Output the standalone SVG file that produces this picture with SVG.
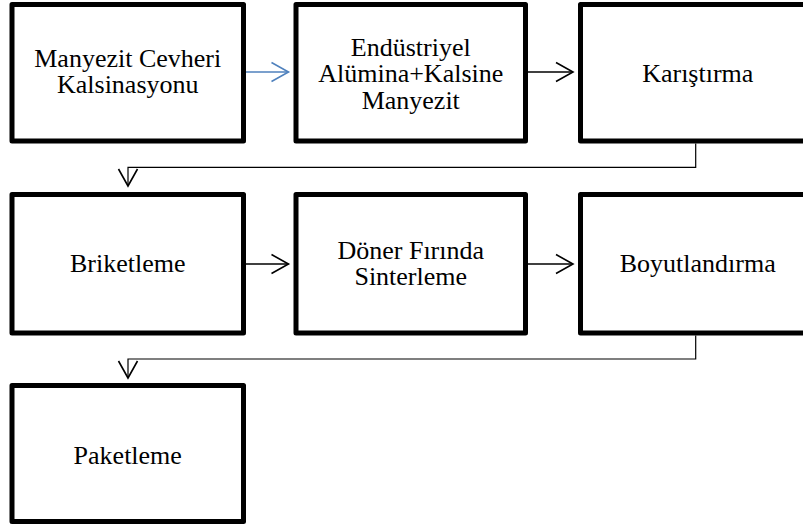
<svg xmlns="http://www.w3.org/2000/svg" width="803" height="529" viewBox="0 0 803 529">
  <style>
    .box { fill: #ffffff; stroke: #000000; stroke-width: 5; stroke-linejoin: round; }
    .label { font-family: 'Liberation Serif', 'DejaVu Serif', serif; font-size: 26px; fill: #000000; text-anchor: middle; }
    .link { fill: none; stroke: #000000; stroke-width: 1.6; }
    .elbow { fill: none; stroke: #000000; stroke-width: 1.2; }
    .blue { stroke: #4f81bd; }
  </style>
  <defs>
    <marker id="open-black" markerUnits="userSpaceOnUse" markerWidth="22" markerHeight="24" viewBox="-19 -11 22 22" refX="0" refY="0" orient="auto">
      <path d="M -17 -9.5 L 0 0 L -17 9.5" fill="none" stroke="#000000" stroke-width="1.6"/>
    </marker>
    <marker id="open-blue" markerUnits="userSpaceOnUse" markerWidth="22" markerHeight="24" viewBox="-19 -11 22 22" refX="0" refY="0" orient="auto">
      <path d="M -17 -9.5 L 0 0 L -17 9.5" fill="none" stroke="#4f81bd" stroke-width="1.6"/>
    </marker>
  </defs>

  <rect width="803" height="529" fill="#ffffff"/>

  <g id="connectors">
    <line class="link blue" x1="246" y1="72" x2="288.5" y2="72" marker-end="url(#open-blue)"/>
    <line class="link" x1="528" y1="72" x2="573" y2="72" marker-end="url(#open-black)"/>
    <polyline class="elbow" points="695.7,143.5 695.7,167.3 128,167.3 128,186" marker-end="url(#open-black)"/>
    <line class="link" x1="246" y1="264" x2="288.5" y2="264" marker-end="url(#open-black)"/>
    <line class="link" x1="528" y1="264" x2="573" y2="264" marker-end="url(#open-black)"/>
    <polyline class="elbow" points="695.7,335.5 695.7,359 128,359 128,378" marker-end="url(#open-black)"/>
  </g>

  <g id="node-kalsinasyon">
    <rect class="box" x="12" y="4.5" width="231.5" height="136.5"/>
    <text class="label" font-family="Liberation Serif, serif" x="127.75" y="66.7">Manyezit Cevheri</text>
    <text class="label" font-family="Liberation Serif, serif" x="127.75" y="93.3">Kalsinasyonu</text>
  </g>

  <g id="node-alumina">
    <rect class="box" x="296" y="4.5" width="229.5" height="136.5"/>
    <text class="label" font-family="Liberation Serif, serif" x="410.75" y="55.5">Endüstriyel</text>
    <text class="label" font-family="Liberation Serif, serif" x="410.75" y="82">Alümina+Kalsine</text>
    <text class="label" font-family="Liberation Serif, serif" x="410.75" y="108.5">Manyezit</text>
  </g>

  <g id="node-karistirma">
    <rect class="box" x="580.5" y="4.5" width="234.5" height="136.5"/>
    <text class="label" font-family="Liberation Serif, serif" x="697.75" y="81.5">Karıştırma</text>
  </g>

  <g id="node-briketleme">
    <rect class="box" x="12" y="194.5" width="231.5" height="138.5"/>
    <text class="label" font-family="Liberation Serif, serif" x="127.75" y="272">Briketleme</text>
  </g>

  <g id="node-sinterleme">
    <rect class="box" x="296" y="194.5" width="229.5" height="138.5"/>
    <text class="label" font-family="Liberation Serif, serif" x="410.75" y="258.5">Döner Fırında</text>
    <text class="label" font-family="Liberation Serif, serif" x="410.75" y="285">Sinterleme</text>
  </g>

  <g id="node-boyutlandirma">
    <rect class="box" x="580.5" y="194.5" width="234.5" height="138.5"/>
    <text class="label" font-family="Liberation Serif, serif" x="697.75" y="271.7">Boyutlandırma</text>
  </g>

  <g id="node-paketleme">
    <rect class="box" x="12" y="385.5" width="231.5" height="136"/>
    <text class="label" font-family="Liberation Serif, serif" x="127.75" y="464">Paketleme</text>
  </g>
</svg>
